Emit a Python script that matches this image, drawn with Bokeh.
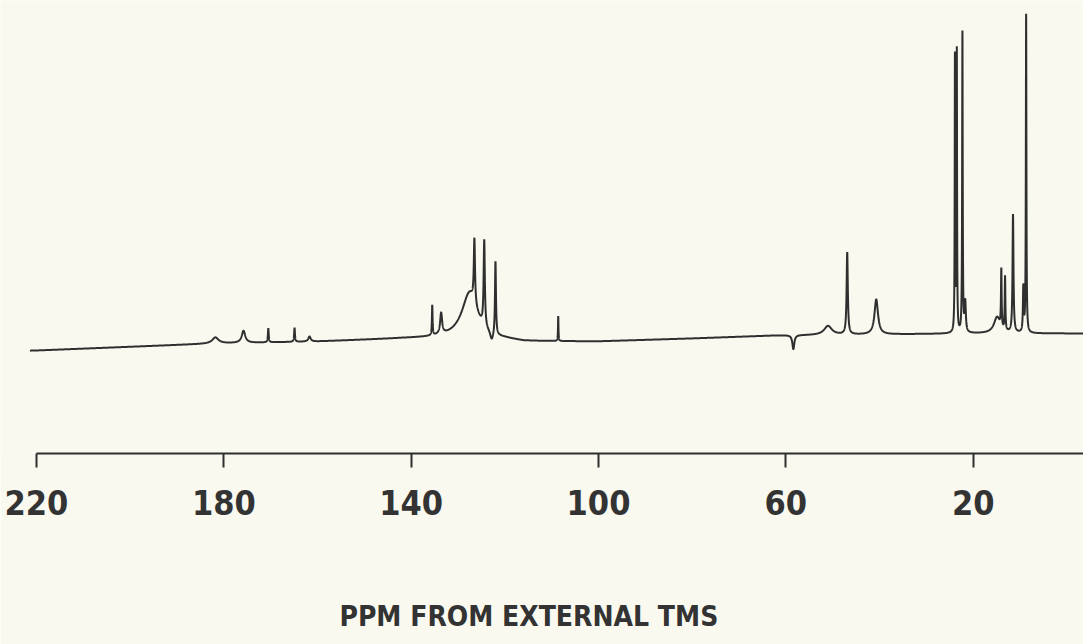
import numpy as np
from bokeh.plotting import figure
from bokeh.models import Range1d, FixedTicker, LinearAxis
from bokeh.embed import file_html
from bokeh.resources import INLINE

# ---- data (ppm, relative intensity, half-width in ppm)
peak_ppm = [181.8, 175.8, 170.5, 164.9, 161.7, 135.5, 133.6, 127.5, 126.5,
            124.4, 122.0, 122.8, 108.6, 58.4, 51.0, 46.9, 40.7, 23.9, 23.5,
            22.3, 21.7, 14.9, 14.0, 13.2, 11.5, 9.3, 8.7]
peak_height = [6, 12, 14, 14, 5, 30, 21, 45, 64,
               86, 74, -9, 25, -14, 9, 82, 35, 275, 280,
               300, 30, 16, 58, 54, 118, 45, 318]
peak_width = [0.8, 0.45, 0.1, 0.1, 0.3, 0.08, 0.25, 2.0, 0.15,
              0.15, 0.12, 0.4, 0.06, 0.25, 1.0, 0.15, 0.45, 0.06, 0.06,
              0.07, 0.15, 0.8, 0.08, 0.08, 0.12, 0.1, 0.07]

# baseline drift of the recorder trace
baseline_ppm = [-4, 20, 40, 62, 80, 100, 116, 120, 130, 142, 160, 182, 220, 228]
baseline_level = [7, 7, 6, 5, 2, -1, -1, 1, 3, 2, -1, -3, -10, -11]

tick_values = [220, 180, 140, 100, 60, 20]
axis_title = "PPM  FROM  EXTERNAL  TMS"

# ---- build trace
ppm = np.union1d(np.arange(-3.6, 221.4, 0.01), np.array(peak_ppm))
bp = np.array(baseline_ppm, dtype=float)
bl = np.array(baseline_level, dtype=float)
trace = np.interp(ppm, bp, bl)
for c, h, w in zip(peak_ppm, peak_height, peak_width):
    trace = trace + h / (1.0 + ((ppm - c) / w) ** 2)

bg = "#f9f9f0"
ink = "#2f2f2f"
font = "'DejaVu Sans Condensed', 'Liberation Sans', sans-serif"

p = figure(width=1083, height=644, output_backend="svg", toolbar_location=None,
           x_range=Range1d(227.68, -3.55), y_range=Range1d(-113, 340),
           x_axis_location=None, y_axis_location=None,
           min_border_left=0, min_border_right=0, min_border_top=0,
           min_border_bottom=191)
p.background_fill_color = bg
p.border_fill_color = bg
p.outline_line_color = None
p.grid.visible = False

p.line(ppm, trace, line_color=ink, line_width=2)

ax = LinearAxis(ticker=FixedTicker(ticks=tick_values), bounds=(-10, 220))
ax.axis_line_color = ink
ax.axis_line_width = 2
ax.major_tick_line_color = ink
ax.major_tick_line_width = 2
ax.major_tick_in = 0
ax.major_tick_out = 14
ax.minor_tick_line_color = None
ax.major_label_text_font = font
ax.major_label_text_font_style = "bold"
ax.major_label_text_font_size = "34px"
ax.major_label_text_color = "#333333"
ax.major_label_standoff = 22
ax.axis_label = axis_title
ax.axis_label_text_font = font
ax.axis_label_text_font_style = "bold"
ax.axis_label_text_font_size = "28px"
ax.axis_label_text_color = "#333333"
ax.axis_label_standoff = 82
p.add_layout(ax, "below")

open("out.html", "w").write(file_html(p, INLINE))
